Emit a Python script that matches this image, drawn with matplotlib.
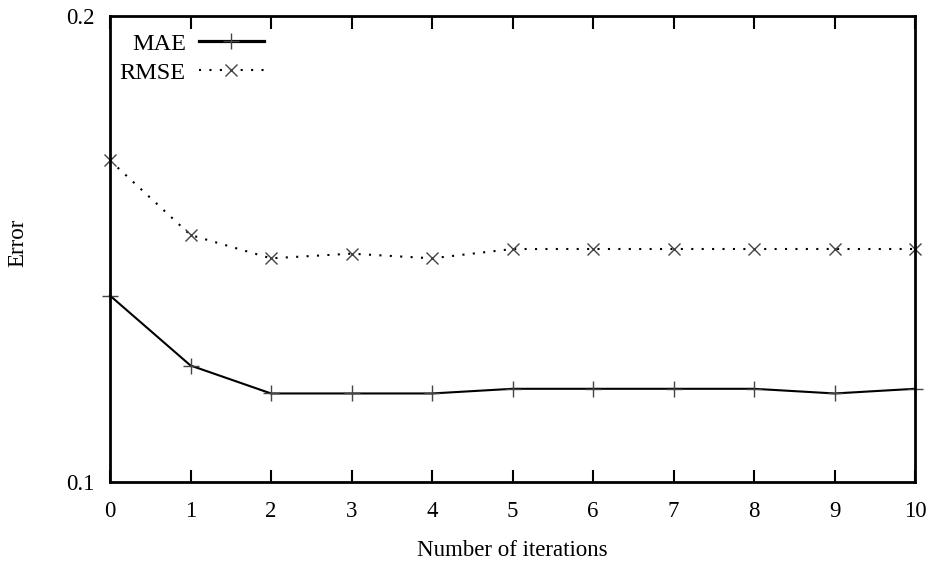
import numpy as np
import matplotlib
matplotlib.use("Agg")
import matplotlib.pyplot as plt

# values
iterations = [0, 1, 2, 3, 4, 5, 6, 7, 8, 9, 10]
mae = [0.140, 0.125, 0.119, 0.119, 0.119, 0.120, 0.120, 0.120, 0.120, 0.119, 0.120]
rmse = [0.169, 0.153, 0.148, 0.149, 0.148, 0.150, 0.150, 0.150, 0.150, 0.150, 0.150]

plt.rcParams['font.family'] = ['Liberation Serif', 'DejaVu Serif']
plt.rcParams['font.size'] = 16.5

fig = plt.figure(figsize=(9.34, 5.61), dpi=100)
ax = fig.add_axes([110/934, 1 - 482/561, 805/934, 466/561])

ax.plot(iterations, mae, color='black', lw=1.5, marker='+', ms=12,
        mew=1.0, mec='#444444', label='MAE', clip_on=False, zorder=3)
ax.plot(iterations, rmse, color='black', lw=1.5, ls=(0, (1, 4)), marker='x',
        ms=9, mew=1.0, mec='#444444', label='RMSE', clip_on=False, zorder=3)

ax.set_xlim(0, 10)
ax.set_ylim(0.1, 0.2)
ax.set_xticks(iterations)
ax.set_yticks([0.1, 0.2])
ax.set_yticklabels(['0.1', '0.2'])

ax.tick_params(axis='x', direction='in', length=9, width=1.5, top=True,
               pad=14)
ax.tick_params(axis='y', length=0, pad=11)
for s in ax.spines.values():
    s.set_linewidth(2)
    s.set_zorder(4)

ax.set_xlabel('Number of iterations')
ax.set_ylabel('Error')
ax.xaxis.set_label_coords(0.5, (482 - 550) / 466)
ax.xaxis.label.set_va('center')
ax.yaxis.set_label_coords((18 - 110) / 805, (482 - 243) / 466)
ax.yaxis.label.set_va('center')

leg = ax.legend(loc='upper left', markerfirst=False, frameon=False,
                fontsize=17.5, handlelength=2.67, handletextpad=0.53,
                labelspacing=0.29, borderaxespad=0.0,
                bbox_to_anchor=(0.0, (482 - 23) / 466))
leg.get_lines()[0].set_linewidth(2.3)

fig.savefig('out.png', dpi=100)
